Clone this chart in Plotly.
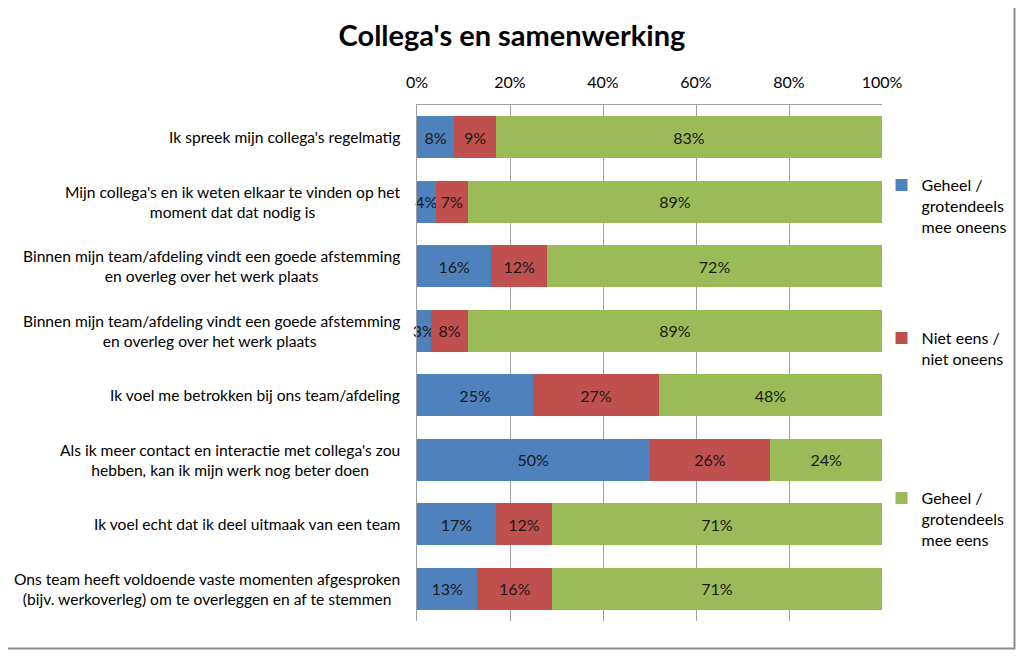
import plotly.graph_objects as go

categories = [
    "Ik spreek mijn collega's regelmatig",
    "Mijn collega's en ik weten elkaar te vinden op het<br>moment dat dat nodig is",
    "Binnen mijn team/afdeling vindt een goede afstemming<br>en overleg over het werk plaats",
    "Binnen mijn team/afdeling vindt een goede afstemming<br>en overleg over het werk plaats ",
    "Ik voel me betrokken bij ons team/afdeling",
    "Als ik meer contact en interactie met collega's zou<br>hebben, kan ik mijn werk nog beter doen",
    "Ik voel echt dat ik deel uitmaak van een team",
    "Ons team heeft voldoende vaste momenten afgesproken<br>(bijv. werkoverleg) om te overleggen en af te stemmen",
]
oneens = [8, 4, 16, 3, 25, 50, 17, 13]
neutraal = [9, 7, 12, 8, 27, 26, 12, 16]
eens = [83, 89, 72, 89, 48, 24, 71, 71]
series_names = [
    "Geheel /<br>grotendeels<br>mee oneens",
    "Niet eens /<br>niet oneens",
    "Geheel /<br>grotendeels<br>mee eens",
]
colors = ["#4F81BD", "#C0504D", "#9BBB59"]
tick_vals = [0, 20, 40, 60, 80, 100]
tick_text = ["0%", "20%", "40%", "60%", "80%", "100%"]

FONT = "Lato, Carlito, 'Open Sans', sans-serif"
OFF = 8  # page body margin
W, H = 1024 - 2 * OFF, 658 - 2 * OFF
ML, MT = 417 - OFF, 105 - OFF
MR = W - ML - 465
MB = H - MT - 516
pw = W - ML - MR
ph = H - MT - MB

fig = go.Figure()
legend_ids = ["legend", "legend2", "legend3"]
for vals, name, col, lg in zip([oneens, neutraal, eens], series_names, colors, legend_ids):
    fig.add_trace(go.Bar(
        y=categories, x=vals, name=name, orientation="h",
        marker=dict(color=col, line=dict(width=0)),
        text=[f"{v}%" for v in vals], textposition="inside", textangle=0,
        insidetextanchor="middle", constraintext="none",
        textfont=dict(family=FONT, size=16, color="#1a1a1a"),
        width=0.65, legend=lg, hoverinfo="skip", cliponaxis=False,
    ))

annotations = []
for c in categories:
    annotations.append(dict(
        text=c, x=-(417 - 402) / pw, y=c, xref="paper", yref="y", xanchor="right", yanchor="middle",
        align="center", showarrow=False, font=dict(family=FONT, size=15.6, color="#000"),
    ))

# outer chart border (left/top edges fall in the page margin)
fig.add_shape(type="rect", xref="paper", yref="paper",
              x0=-(ML + 20) / pw, x1=1 + (MR - 1.5) / pw,
              y0=-(MB - 1.5) / ph, y1=1 + (MT + 20) / ph,
              line=dict(color="#8c8c8c", width=2), layer="below")

leg_common = dict(font=dict(family=FONT, size=16, color="#000"), bgcolor="rgba(0,0,0,0)",
                  xanchor="left", yanchor="top", itemwidth=30, tracegroupgap=0,
                  valign="top", x=0.999)

def ly(page_px):
    return 1 - (page_px - OFF - MT) / ph

fig.update_layout(
    width=W, height=H,
    margin=dict(l=ML, r=MR, t=MT, b=MB, autoexpand=False),
    barmode="stack",
    paper_bgcolor="white", plot_bgcolor="white",
    title=dict(text="<b>Collega's en samenwerking</b>", x=(512 - OFF) / W, xref="container", xanchor="center",
               y=1 - (36 - OFF) / H, yref="container", yanchor="middle",
               font=dict(family=FONT, size=29, color="#000")),
    showlegend=True,
    legend=dict(**leg_common, y=ly(168)),
    legend2=dict(**leg_common, y=ly(321)),
    legend3=dict(**leg_common, y=ly(481)),
    uniformtext=dict(minsize=16, mode="show"),
    annotations=annotations,
    xaxis=dict(range=[0, 100], side="top", tickvals=tick_vals, ticktext=tick_text,
               showgrid=True, gridcolor="#a0a0a0", gridwidth=1,
               showline=True, linecolor="#a0a0a0", mirror=False, zeroline=False,
               ticks="", ticklabelstandoff=10,
               tickfont=dict(family=FONT, size=16, color="#000")),
    yaxis=dict(autorange="reversed", showticklabels=False, ticks="",
               showline=True, linecolor="#a0a0a0", showgrid=False),
    font=dict(family=FONT),
)
fig.write_html("out.html")
